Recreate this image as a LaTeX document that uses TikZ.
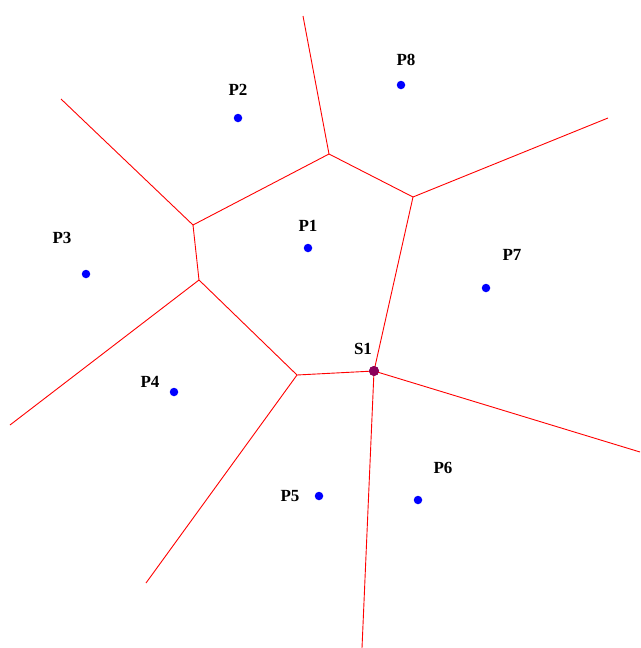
\documentclass[tikz,border=0pt]{standalone}
\usepackage{fontspec}
\setmainfont{Liberation Serif}
\begin{document}
\begin{tikzpicture}[x=1pt,y=-1pt,
  edge/.style={red, line width=0.9pt},
  site/.style={circle, fill=blue, inner sep=0pt, minimum size=8.5pt},
  seed/.style={circle, fill={rgb,255:red,140;green,0;blue,90}, inner sep=0pt, minimum size=10pt},
  lbl/.style={font=\bfseries\fontsize{17}{18}\selectfont, inner sep=0pt}]
\useasboundingbox (0,0) rectangle (640,648);
% Voronoi vertices
\coordinate (v1) at (329,154);
\coordinate (v2) at (413,197);
\coordinate (v3) at (193,225);
\coordinate (v4) at (199,280);
\coordinate (v5) at (297,375);
% Far ends of unbounded edges
\coordinate (e1) at (303,16);
\coordinate (e2) at (608,118);
\coordinate (e3) at (61,99);
\coordinate (e4) at (10,425);
\coordinate (e5) at (146,583);
\coordinate (e6) at (362,648);
\coordinate (e7) at (640,452);
% Special vertex
\node[seed] (s1) at (374,371) {};
% Cell edges
\draw[edge] (v1) -- (v2) (v1) -- (v3) (v3) -- (v4) (v4) -- (v5)
  (v5) -- (s1.center) (s1.center) -- (v2);
\draw[edge] (v1) -- (e1) (v2) -- (e2) (v3) -- (e3) (v4) -- (e4)
  (v5) -- (e5) (s1.center) -- (e6) (s1.center) -- (e7);
\node[seed] at (s1) {};
% Sites
\node[site] (p1) at (308,248) {};
\node[site] (p2) at (238,118) {};
\node[site] (p3) at (86,274) {};
\node[site] (p4) at (174,392) {};
\node[site] (p5) at (319,496) {};
\node[site] (p6) at (418,500) {};
\node[site] (p7) at (486,288) {};
\node[site] (p8) at (401,85) {};
% Labels
\node[lbl] (l1) at (308,226) {P1};
\node[lbl] (l2) at (238,90) {P2};
\node[lbl] (l3) at (62,238) {P3};
\node[lbl] (l4) at (150,382) {P4};
\node[lbl] (l5) at (290,496) {P5};
\node[lbl] (l6) at (443,468) {P6};
\node[lbl] (l7) at (512,255) {P7};
\node[lbl] (l8) at (406,60) {P8};
\node[lbl] (ls) at (363,349) {S1};
\end{tikzpicture}
\end{document}
